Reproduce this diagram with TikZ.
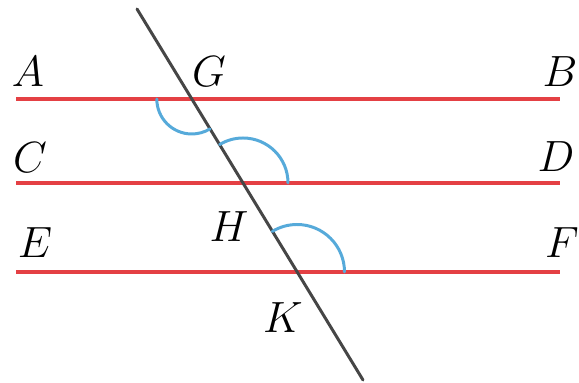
\documentclass[tikz,border=0pt]{standalone}
\definecolor{parred}{RGB}{228,64,68}
\definecolor{anglblue}{RGB}{86,170,218}
\definecolor{cutgray}{RGB}{70,70,70}
\begin{document}
\begin{tikzpicture}[line cap=round,line join=round,every node/.style={inner sep=0pt,font=\fontsize{28}{30}\selectfont}]
  \useasboundingbox (0,0) rectangle (11.58,7.66);
  % parallel lines
  \foreach \y/\n in {5.68/ab,4.00/cd,2.22/ef}{
    \coordinate (\n l) at (0.32,\y);
    \coordinate (\n r) at (11.20,\y);
    \draw[parred,line width=2.2pt,line cap=butt] (\n l) -- (\n r);
  }
  % transversal
  \coordinate (top) at (2.74,7.48);
  \coordinate (bot) at (7.26,0.06);
  \draw[cutgray,line width=1.7pt] (top) -- (bot);
  % angle marks
  \coordinate (g) at (3.836,5.68);
  \coordinate (h) at (4.86,4.00);
  \coordinate (k) at (5.94,2.22);
  \draw[anglblue,line width=1.7pt] (g) ++(180:0.70) arc (180:301.35:0.70);
  \draw[anglblue,line width=1.7pt] (h) ++(0:0.90) arc (0:121.35:0.90);
  \draw[anglblue,line width=1.7pt] (k) ++(0:0.95) arc (0:121.35:0.95);
  % labels
  \node (A) at (0.56,6.22) {$A$};
  \node (G) at (4.18,6.22) {$G$};
  \node (B) at (11.20,6.22) {$B$};
  \node (C) at (0.60,4.50) {$C$};
  \node (D) at (11.12,4.52) {$D$};
  \node (E) at (0.70,2.80) {$E$};
  \node (F) at (11.24,2.80) {$F$};
  \node (H) at (4.58,3.12) {$H$};
  \node (K) at (5.66,1.30) {$K$};
\end{tikzpicture}
\end{document}
